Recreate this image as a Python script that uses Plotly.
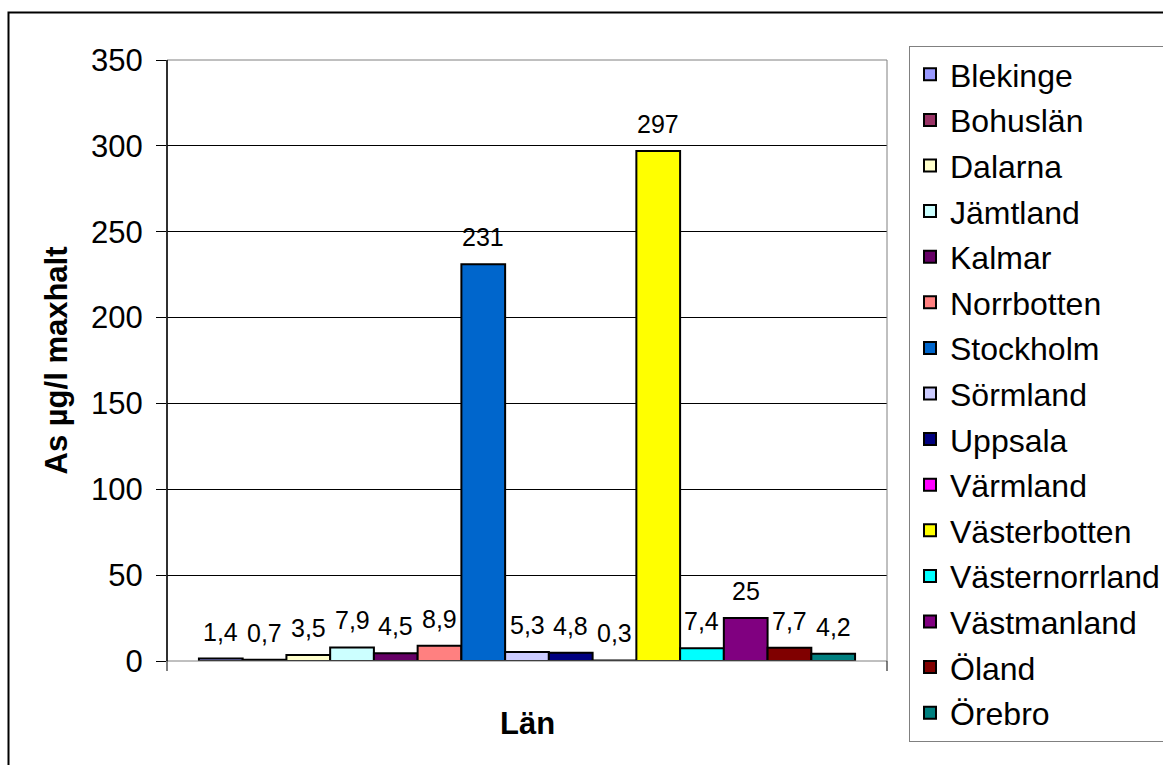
import plotly.graph_objects as go

regions = ["Blekinge", "Bohuslän", "Dalarna", "Jämtland", "Kalmar", "Norrbotten",
           "Stockholm", "Sörmland", "Uppsala", "Värmland", "Västerbotten",
           "Västernorrland", "Västmanland", "Öland", "Örebro"]
values = [1.4, 0.7, 3.5, 7.9, 4.5, 8.9, 231, 5.3, 4.8, 0.3, 297, 7.4, 25, 7.7, 4.2]
colors = ["#9999FF", "#993366", "#FFFFCC", "#CCFFFF", "#660066", "#FF8080",
          "#0066CC", "#CCCCFF", "#000080", "#FF00FF", "#FFFF00", "#00FFFF",
          "#800080", "#800000", "#008080"]
y_ticks = [0, 50, 100, 150, 200, 250, 300, 350]

W, H = 1163, 765
L, R, T, B = 167, 276, 60, 104
PW, PH = W - L - R, H - T - B
FONT = "Liberation Sans, Arial, sans-serif"


def fmt(v):
    s = ("%g" % v)
    return s.replace(".", ",")


fig = go.Figure()
for name, v, c in zip(regions, values, colors):
    fig.add_trace(go.Bar(
        x=[name], y=[v], name=name, width=1, legendgroup=name,
        marker=dict(color=c, line=dict(color="black", width=2)),
        hoverinfo="name+y",
    ))

annotations = []
for name, v in zip(regions, values):
    annotations.append(dict(
        x=name, y=v, xref="x", yref="y", text=fmt(v), showarrow=False,
        yanchor="middle", yshift=27, font=dict(size=25, color="black", family=FONT),
    ))

# axis titles
annotations.append(dict(
    x=(527 - L) / PW, y=(661 - 723) / PH, xref="paper", yref="paper",
    text="<b>Län</b>", showarrow=False, xanchor="center", yanchor="middle",
    font=dict(size=31, color="black", family=FONT)))
annotations.append(dict(
    x=(56 - L) / PW, y=0.5, xref="paper", yref="paper",
    text="<b>As µg/l maxhalt</b>", showarrow=False, textangle=-90,
    xanchor="center", yanchor="middle",
    font=dict(size=31, color="black", family=FONT)))

shapes = [
    # plot area border (gray)
    dict(type="rect", xref="paper", yref="paper", x0=0, y0=0, x1=1, y1=1,
         line=dict(color="#808080", width=1), layer="above"),
    # left axis line (black)
    dict(type="line", xref="paper", yref="paper", x0=0, y0=0, x1=0, y1=1,
         line=dict(color="black", width=1.5), layer="above"),
    # category end ticks
    dict(type="line", xref="paper", yref="paper", x0=0, y0=0, x1=0, y1=-10 / PH,
         line=dict(color="black", width=1)),
    dict(type="line", xref="paper", yref="paper", x0=1, y0=0, x1=1, y1=-10 / PH,
         line=dict(color="black", width=1)),
    # outer chart border
    dict(type="rect", xref="paper", yref="paper",
         x0=(8.5 - L) / PW, y0=(661 - 800) / PH, x1=(1200 - L) / PW, y1=(661 - 12.5) / PH,
         line=dict(color="black", width=2), layer="below"),
]

fig.update_layout(
    width=W, height=H,
    margin=dict(l=L, r=R, t=T, b=B, autoexpand=False),
    paper_bgcolor="white", plot_bgcolor="white",
    barmode="overlay",
    showlegend=True,
    legend=dict(
        x=(909 - L) / PW, y=(661 - 46) / PH, xanchor="left", yanchor="top",
        bgcolor="white", bordercolor="#808080", borderwidth=1,
        font=dict(size=32, color="black", family=FONT),
        traceorder="grouped", tracegroupgap=1.0, maxheight=740,
    ),
    font=dict(family=FONT, color="black"),
    xaxis=dict(
        type="category", categoryorder="array", categoryarray=regions,
        range=[-1.23, len(regions) - 1 + 1.23],
        showticklabels=False, ticks="", showgrid=False, zeroline=False,
        showline=False, fixedrange=True,
    ),
    yaxis=dict(
        range=[y_ticks[0], y_ticks[-1]], tickmode="array", tickvals=y_ticks,
        ticks="outside", ticklen=10, tickcolor="black", tickwidth=1,
        showgrid=True, gridcolor="black", gridwidth=1,
        zeroline=False, showline=False,
        tickfont=dict(size=31, color="black", family=FONT),
        ticklabelstandoff=7,
    ),
    annotations=annotations,
    shapes=shapes,
)

fig.write_html("out.html")
